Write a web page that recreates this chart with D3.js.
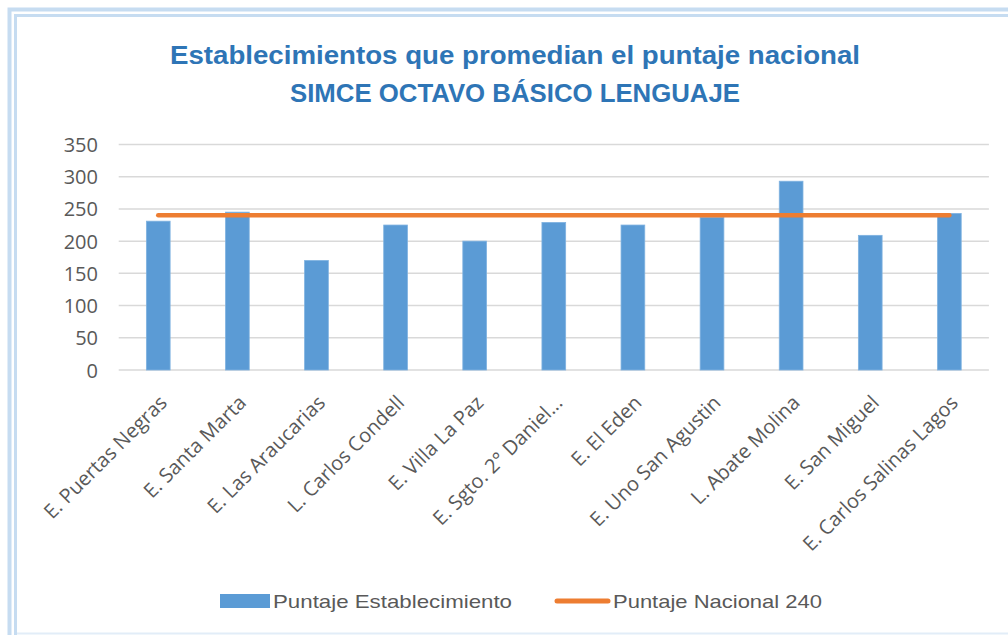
<!DOCTYPE html>
<html><head><meta charset="utf-8">
<script src="https://cdn.jsdelivr.net/npm/d3@7"></script>
<style>
html,body{margin:0;padding:0;background:#fff;}
svg{display:block;}
</style></head>
<body>
<svg id="c" width="1008" height="635"></svg>
<script>
const categories = ["E. Puertas Negras","E. Santa Marta","E. Las Araucarias","L. Carlos Condell","E. Villa La Paz","E. Sgto. 2° Daniel...","E. El Eden","E. Uno San Agustin","L. Abate Molina","E. San Miguel","E. Carlos Salinas Lagos"];
const puntajeEstablecimiento = [231, 245, 170, 225, 200, 229, 225, 237, 293, 209, 243];
const puntajeNacional = 240;
const yTicks = [0, 50, 100, 150, 200, 250, 300, 350];
const titleLines = ["Establecimientos que promedian el puntaje nacional", "SIMCE OCTAVO BÁSICO LENGUAJE"];
const legendLabels = ["Puntaje Establecimiento", "Puntaje Nacional 240"];

const svg = d3.select("#c");
const blue = "#5B9BD5", orange = "#ED7D31", grid = "#D9D9D9", txt = "#595959";

// frame
svg.append("path").attr("d","M9.5,635 V9.5 H1008").attr("fill","none").attr("stroke","#C6DCF1").attr("stroke-width",4);
svg.append("path").attr("d","M15.5,635 V15.5 H1008").attr("fill","none").attr("stroke","#C6DCF1").attr("stroke-width",3);
svg.append("line").attr("x1",17).attr("x2",1008).attr("y1",633.5).attr("y2",633.5).attr("stroke","#E2EDF8").attr("stroke-width",2);

const x = d3.scaleBand().domain(categories).range([118.7, 988.9]).padding(0);
const y = d3.scaleLinear().domain([0, 350]).range([370, 144.5]);
const bw = x.bandwidth();

// gridlines
svg.append("g").selectAll("line").data(yTicks).join("line")
  .attr("x1", 118.7).attr("x2", 988.9)
  .attr("y1", d => y(d)).attr("y2", d => y(d))
  .attr("stroke", grid).attr("stroke-width", 1.5);

// y axis labels
const yAxis = d3.axisLeft(y).tickValues(yTicks).tickSize(0).tickPadding(0);
const gy = svg.append("g").attr("transform","translate(98,0)").call(yAxis);
gy.select(".domain").remove();
gy.selectAll("text").attr("font-family","'Open Sans',sans-serif").attr("font-size",20).attr("fill",txt).attr("dy","0.35em");

// bars
svg.append("g").selectAll("rect").data(categories).join("rect")
  .attr("x", d => x(d) + bw*0.35).attr("width", bw*0.3)
  .attr("y", (d,i) => y(puntajeEstablecimiento[i]))
  .attr("height", (d,i) => y(0) - y(puntajeEstablecimiento[i]))
  .attr("fill", blue).attr("stroke","#7FB2E0").attr("stroke-width",0.8);

// national line
const line = d3.line().x(d => x(d) + bw/2).y(() => y(puntajeNacional));
svg.append("path").datum(categories).attr("d", line)
  .attr("fill","none").attr("stroke", orange).attr("stroke-width",4.5).attr("stroke-linecap","round");

// x labels
svg.append("g").selectAll("text").data(categories).join("text")
  .attr("transform", d => `translate(${x(d)+bw/2+10},${404}) rotate(-45)`)
  .attr("text-anchor","end")
  .attr("font-family","'Open Sans',sans-serif").attr("font-size",20).attr("fill",txt)
  .text(d => d);

// title
const tFont = "'Liberation Sans Narrow','Liberation Sans',sans-serif";
const tW = [690, 450], tY = [64, 102];
titleLines.forEach((t,i) => {
  svg.append("text").attr("x", 515).attr("y", tY[i]).attr("text-anchor","middle")
    .attr("font-family", tFont).attr("font-weight","bold").attr("font-size",26)
    .attr("fill","#2E75B6").attr("textLength", tW[i]).attr("lengthAdjust","spacingAndGlyphs")
    .text(t);
});

// legend
svg.append("rect").attr("x",220).attr("y",594).attr("width",50).attr("height",14).attr("fill",blue);
svg.append("text").attr("x",273).attr("y",608).attr("font-family",tFont).attr("font-size",19).attr("fill",txt)
  .attr("textLength",239).attr("lengthAdjust","spacingAndGlyphs").text(legendLabels[0]);
svg.append("line").attr("x1",557).attr("x2",608).attr("y1",601).attr("y2",601)
  .attr("stroke",orange).attr("stroke-width",5).attr("stroke-linecap","round");
svg.append("text").attr("x",613).attr("y",608).attr("font-family",tFont).attr("font-size",19).attr("fill",txt)
  .attr("textLength",209).attr("lengthAdjust","spacingAndGlyphs").text(legendLabels[1]);
</script>
</body></html>
